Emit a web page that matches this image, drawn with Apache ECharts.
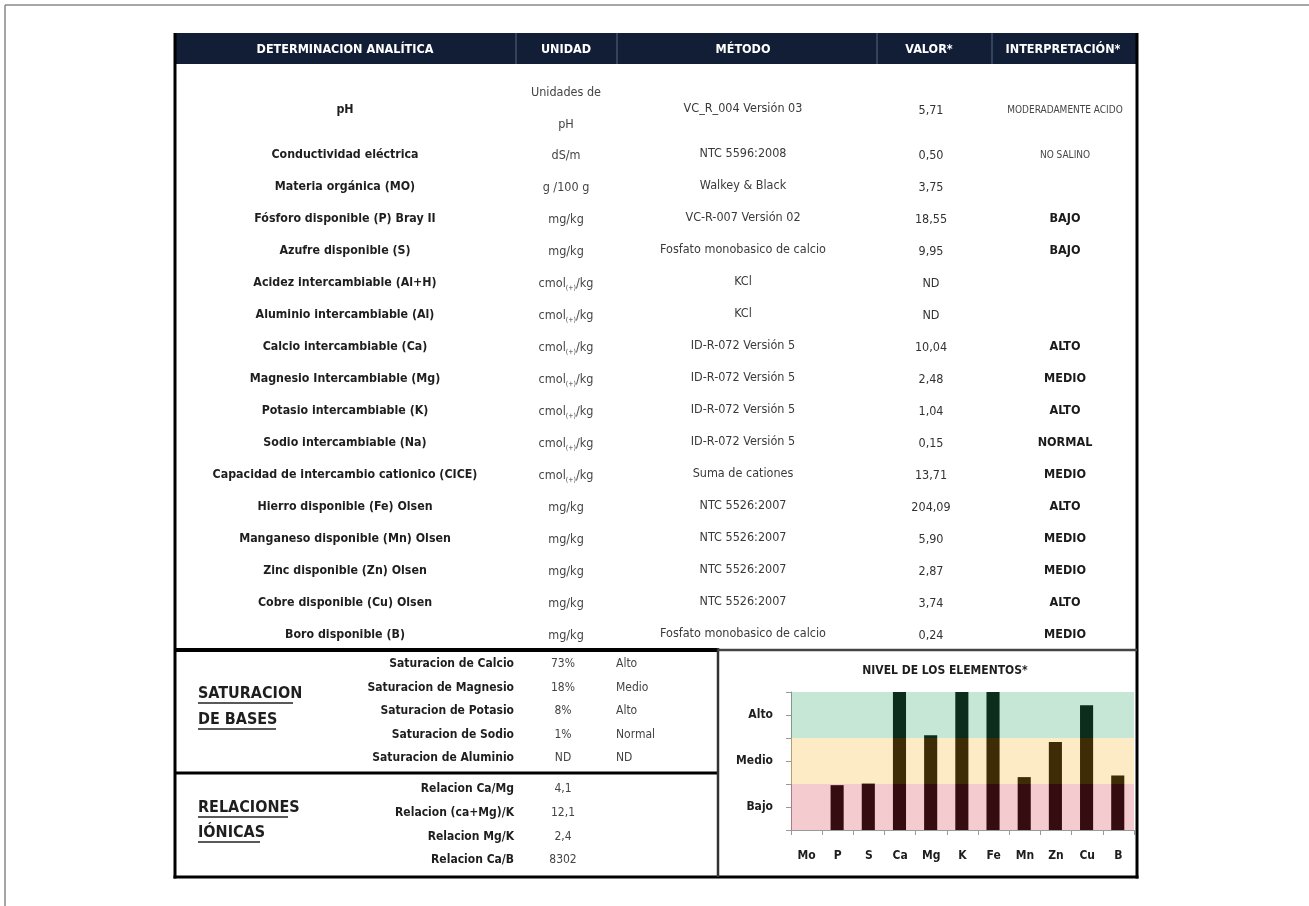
<!DOCTYPE html>
<html>
<head>
<meta charset="utf-8">
<script src="https://cdn.jsdelivr.net/npm/echarts@6/dist/echarts.min.js"></script>
<style>
html,body{margin:0;padding:0;background:#fff;}
#chart{width:1309px;height:906px;}
</style>
</head>
<body>
<div id="chart"></div>
<script>
// ---------- DATA ----------
const encabezados = ['DETERMINACION ANALÍTICA', 'UNIDAD', 'MÉTODO', 'VALOR*', 'INTERPRETACIÓN*'];
const determinaciones = [
  'pH', 'Conductividad eléctrica', 'Materia orgánica (MO)', 'Fósforo disponible (P) Bray II',
  'Azufre disponible (S)', 'Acidez intercambiable (Al+H)', 'Aluminio intercambiable (Al)',
  'Calcio intercambiable (Ca)', 'Magnesio Intercambiable (Mg)', 'Potasio intercambiable (K)',
  'Sodio intercambiable (Na)', 'Capacidad de intercambio cationico (CICE)',
  'Hierro disponible (Fe) Olsen', 'Manganeso disponible (Mn) Olsen', 'Zinc disponible (Zn) Olsen',
  'Cobre disponible (Cu) Olsen', 'Boro disponible (B)'
];
const unidades = [
  'Unidades de\npH', 'dS/m', 'g /100 g', 'mg/kg', 'mg/kg', 'cmol(+)/kg', 'cmol(+)/kg',
  'cmol(+)/kg', 'cmol(+)/kg', 'cmol(+)/kg', 'cmol(+)/kg', 'cmol(+)/kg',
  'mg/kg', 'mg/kg', 'mg/kg', 'mg/kg', 'mg/kg'
];
const metodos = [
  'VC_R_004 Versión 03', 'NTC 5596:2008', 'Walkey & Black', 'VC-R-007 Versión 02',
  'Fosfato monobasico de calcio', 'KCl', 'KCl', 'ID-R-072 Versión 5', 'ID-R-072 Versión 5',
  'ID-R-072 Versión 5', 'ID-R-072 Versión 5', 'Suma de cationes', 'NTC 5526:2007',
  'NTC 5526:2007', 'NTC 5526:2007', 'NTC 5526:2007', 'Fosfato monobasico de calcio'
];
const valores = [
  '5,71', '0,50', '3,75', '18,55', '9,95', 'ND', 'ND', '10,04', '2,48', '1,04', '0,15',
  '13,71', '204,09', '5,90', '2,87', '3,74', '0,24'
];
const interpretaciones = [
  'MODERADAMENTE ACIDO', 'NO SALINO', '', 'BAJO', 'BAJO', '', '', 'ALTO', 'MEDIO', 'ALTO',
  'NORMAL', 'MEDIO', 'ALTO', 'MEDIO', 'MEDIO', 'ALTO', 'MEDIO'
];
const saturacionNombres = ['Saturacion de Calcio', 'Saturacion de Magnesio', 'Saturacion de Potasio', 'Saturacion de Sodio', 'Saturacion de Aluminio'];
const saturacionValores = ['73%', '18%', '8%', '1%', 'ND'];
const saturacionNiveles = ['Alto', 'Medio', 'Alto', 'Normal', 'ND'];
const relacionNombres = ['Relacion Ca/Mg', 'Relacion (ca+Mg)/K', 'Relacion Mg/K', 'Relacion Ca/B'];
const relacionValores = ['4,1', '12,1', '2,4', '8302'];
const seccionSaturacion = ['SATURACION', 'DE BASES'];
const seccionRelaciones = ['RELACIONES', 'IÓNICAS'];

const tituloGrafico = 'NIVEL DE LOS ELEMENTOS*';
const elementos = ['Mo', 'P', 'S', 'Ca', 'Mg', 'K', 'Fe', 'Mn', 'Zn', 'Cu', 'B'];
const nivelElementos = [0, 1.95, 2.02, 6, 4.12, 6, 6, 2.3, 3.83, 5.42, 2.37];
const nivelEtiquetas = ['', 'Bajo', '', 'Medio', '', 'Alto', ''];
const bandas = [[0, 2], [2, 4], [4, 6]];

// ---------- LAYOUT / STYLE ----------
const FONT = "'Liberation Sans Narrow', 'DejaVu Sans Condensed', 'Open Sans', sans-serif";
const T_LEFT = 175, T_RIGHT = 1137, T_TOP = 33, T_BOTTOM = 877;
const HEAD_H = 31;
const colCenters = [345, 566, 743, 929, 1063];
const colSeps = [516, 617, 877, 992];
const rowY = i => (i === 0 ? 110 : 155 + 32 * (i - 1));

const g = [];
function txt(x, y, text, o) {
  o = o || {};
  g.push({
    type: 'text', x: x, y: y, z: 20, silent: true,
    style: Object.assign({
      text: text, fill: '#222', fontFamily: FONT, fontSize: 13, fontWeight: 'normal',
      align: 'center', verticalAlign: 'middle'
    }, o)
  });
}
function line(x1, y1, x2, y2, w, c, z) {
  g.push({ type: 'line', z: z || 15, silent: true, shape: { x1, y1, x2, y2 }, style: { stroke: c || '#000', lineWidth: w || 1 } });
}

// page frame
line(5, 5, 1309, 5, 1.5, '#888', 1);
line(5, 5, 5, 906, 1.5, '#888', 1);

// header
g.push({ type: 'rect', z: 10, silent: true, shape: { x: T_LEFT, y: T_TOP, width: T_RIGHT - T_LEFT, height: HEAD_H }, style: { fill: '#121d36' } });
colSeps.forEach(x => line(x, T_TOP, x, T_TOP + HEAD_H, 2, '#34425e', 11));
encabezados.forEach((h, i) => txt(colCenters[i], T_TOP + HEAD_H / 2 + 1, h, { fill: '#fff', fontWeight: 'bold', fontSize: 12.5 }));

// rows
determinaciones.forEach((d, i) => {
  const y = rowY(i);
  txt(colCenters[0], y, d, { fontWeight: 'bold', fontSize: 12.3, fill: '#1e1e1e' });
  const u = unidades[i];
  if (u.indexOf('cmol(+)') === 0) {
    txt(colCenters[1], y + 1, '{a|cmol}{s|(+)}{a|/kg}', {
      fill: '#444',
      rich: { a: { fontFamily: FONT, fontSize: 12.5, fill: '#444' }, s: { fontFamily: FONT, fontSize: 7, fill: '#444', padding: [8, 0, 0, 0] } }
    });
  } else if (u.indexOf('\n') >= 0) {
    const parts = u.split('\n');
    txt(colCenters[1], y - 17, parts[0], { fill: '#444', fontSize: 12.5 });
    txt(colCenters[1], y + 15, parts[1], { fill: '#444', fontSize: 12.5 });
  } else {
    txt(colCenters[1], y + 1, u, { fill: '#444', fontSize: 12.5 });
  }
  txt(colCenters[2], y - 1, metodos[i], { fill: '#3a3a3a', fontSize: 12.5 });
  txt(colCenters[3] + 2, y + 1, valores[i], { fill: '#333', fontSize: 12.5 });
  const it = interpretaciones[i];
  if (it) {
    const small = (it === 'MODERADAMENTE ACIDO' || it === 'NO SALINO');
    txt(colCenters[4] + 2, y, it, small ? { fill: '#444', fontSize: 10, fontWeight: 'normal' } : { fontWeight: 'bold', fontSize: 12.5, fill: '#1a1a1a' });
  }
});

// saturacion section
saturacionNombres.forEach((n, i) => {
  const y = 664 + 23.5 * i;
  txt(514, y, n, { align: 'right', fontWeight: 'bold', fontSize: 12, fill: '#1e1e1e' });
  txt(563, y, saturacionValores[i], { fill: '#444', fontSize: 12 });
  txt(616, y, saturacionNiveles[i], { align: 'left', fill: '#444', fontSize: 12 });
});
relacionNombres.forEach((n, i) => {
  const y = 789 + 23.7 * i;
  txt(514, y, n, { align: 'right', fontWeight: 'bold', fontSize: 12, fill: '#1e1e1e' });
  txt(563, y, relacionValores[i], { fill: '#444', fontSize: 12 });
});
const secW1 = [95, 78], secW2 = [90, 62];
seccionSaturacion.forEach((s, i) => {
  const y = 694 + 26 * i;
  txt(198, y, s, { align: 'left', fontWeight: 'bold', fontSize: 16, fill: '#1e1e1e' });
  line(198, y + 9, 198 + secW1[i], y + 9, 1.3, '#222');
});
seccionRelaciones.forEach((s, i) => {
  const y = 808 + 25 * i;
  txt(198, y, s, { align: 'left', fontWeight: 'bold', fontSize: 16, fill: '#1e1e1e' });
  line(198, y + 9, 198 + secW2[i], y + 9, 1.3, '#222');
});

// table borders
line(T_LEFT, T_TOP, T_LEFT, T_BOTTOM + 1.5, 3, '#000');
line(T_RIGHT, T_TOP, T_RIGHT, T_BOTTOM + 1.5, 3, '#000');
line(T_LEFT - 1.5, T_BOTTOM, T_RIGHT + 1.5, T_BOTTOM, 3, '#000');
line(T_LEFT, 650, 718, 650, 4, '#000');
line(T_LEFT, 773, 718, 773, 3, '#000');
// chart box
line(718, 648, 718, T_BOTTOM, 2.5, '#333');
line(718, 650, T_RIGHT, 650, 2.5, '#444');

// ---------- CHART ----------
const chart = echarts.init(document.getElementById('chart'), null, { renderer: 'canvas' });
chart.setOption({
  animation: false,
  backgroundColor: '#fff',
  textStyle: { fontFamily: FONT },
  title: {
    text: tituloGrafico, left: 940, top: 660, textAlign: 'center',
    textStyle: { fontFamily: FONT, fontSize: 12, fontWeight: 'bold', color: '#1e1e1e' }
  },
  grid: { left: 791, top: 692, width: 343, height: 138, containLabel: false },
  xAxis: {
    type: 'category', data: elementos, boundaryGap: true,
    axisLine: { lineStyle: { color: '#999', width: 1 } },
    axisTick: { show: true, length: 5, lineStyle: { color: '#999' } },
    axisLabel: { color: '#1e1e1e', fontWeight: 'bold', fontSize: 12, fontFamily: FONT, margin: 20, interval: 0 }
  },
  yAxis: {
    type: 'value', min: 0, max: 6, interval: 1,
    axisLine: { show: true, lineStyle: { color: '#999', width: 1 } },
    axisTick: { show: true, length: 5, lineStyle: { color: '#999' } },
    splitLine: { show: false },
    axisLabel: {
      color: '#1e1e1e', fontWeight: 'bold', fontSize: 12, fontFamily: FONT, margin: 18,
      formatter: v => nivelEtiquetas[Math.round(v)] || ''
    }
  },
  series: [
    {
      type: 'bar', data: nivelElementos, barWidth: '42%', z: 2,
      itemStyle: { color: '#000' }, silent: true
    },
    {
      type: 'bar', data: [], z: 10, silent: true,
      markArea: {
        silent: true, z: 10,
        data: [
          [{ yAxis: bandas[0][0], itemStyle: { color: 'rgba(212,52,68,0.25)' } }, { yAxis: bandas[0][1] }],
          [{ yAxis: bandas[1][0], itemStyle: { color: 'rgba(244,176,20,0.25)' } }, { yAxis: bandas[1][1] }],
          [{ yAxis: bandas[2][0], itemStyle: { color: 'rgba(44,168,104,0.27)' } }, { yAxis: bandas[2][1] }]
        ]
      }
    }
  ],
  graphic: { elements: g }
});
</script>
</body>
</html>
